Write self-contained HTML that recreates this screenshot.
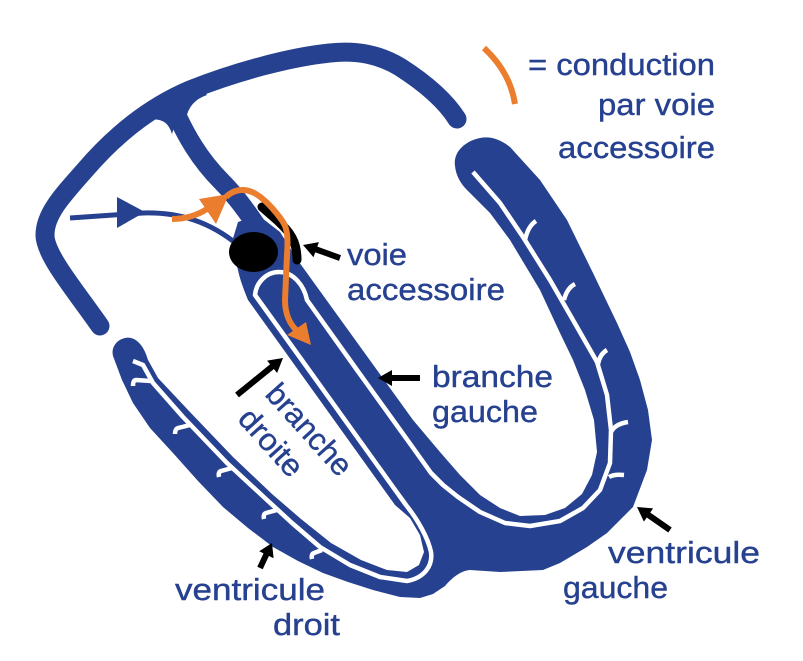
<!DOCTYPE html>
<html><head><meta charset="utf-8"><style>html,body{margin:0;padding:0;background:#fff}svg{display:block}</style></head>
<body>
<svg width="803" height="661" viewBox="0 0 803 661" xmlns="http://www.w3.org/2000/svg">
<rect width="803" height="661" fill="#fff"/>
<!-- atrium outer wall -->
<path d="M457,119 C445,100 425,83 400,67 C380,55 358,50 330,53 C290,57 235,72 190,90 C150,107 115,135 85,170 C60,198 45,215 45,235 C45,255 75,290 100,326" fill="none" stroke="#26418F" stroke-width="19" stroke-linecap="round"/>
<!-- atrial septum -->
<path d="M172,104 C185,135 200,160 222,182 C238,198 252,218 266,240" fill="none" stroke="#26418F" stroke-width="19"/>
<path d="M150,120 Q167,117 172,134 L180,108 L170,104 Z" fill="#26418F"/>
<path d="M186,119 Q189,101 207,95 L200,87 L178,93 Z" fill="#26418F"/>
<!-- ventricles -->
<path d="M113,356 L122,380 L133,403 L150,428 L173,453 L198,481 L223,507 L248,528 L273,547 L298,561 L323,573 L348,582 L373,590 L400,597 L420,598 L433,594 L445,586 C452,578 460,571 470,570 L500,572 L543,570 L560,563 L587,547 L607,533 L633,507 L647,470 L652,440 L648,410 L640,380 L630,352 L617,323 L593,273 L567,220 L540,180 L510,147 C500,139 490,136 480,138 C465,141 453,152 455,166 C456,176 461,184 467,190 L490,213 L510,240 L540,290 L560,333 L573,360 L585,390 L594,420 L597,452 L592,475 L582,494 L565,508 L545,515 L520,516 L500,508 L480,495 L460,475 L440,452 L413,420 L299,262 L280,232 L258,215 L238,222 L231,245 L238,270 C240,280 244,290 248,300 L395,505 L410,518 L420,535 L424,552 L419,565 L407,572 L387,570 L361,560 L331,543 L301,519 L272,494 L233,457 L189,411 L158,378 L148,360 C143,342 133,336 125,338 C116,340 111,348 113,356 Z" fill="#26418F"/>
<!-- conduction white lines -->
<g fill="none" stroke="#fff" stroke-width="4.5" stroke-linejoin="round">
<path d="M473,172 L500,203 L523,237 L550,280 L577,327 L597,362 L607,395 L611,430 L610,463 L600,490 L583,508 L560,521 L530,526 L505,523 L480,512 L458,497 L443,485 L431,473 L411,445 L393,420 L357,370 L307,300 C304,285 293,272 279,272 C266,272 256,283 255,295 L309,370 L393,487 L406,505 C418,520 428,538 431,552 C433,566 424,578 407,581 L380,577 L350,565 L320,547 L292,523 L267,500 L227,463 L183,417 L153,383 L143,365 L133,361"/>
<path d="M525,240 Q528,226 536,221"/>
<path d="M564,300 Q567,288 575,284"/>
<path d="M598,364 Q600,354 607,350"/>
<path d="M611,432 Q615,424 628,422"/>
<path d="M609,477 Q614,474 624,475"/>
<path d="M151,381 L136,380 Q133,380 133,386"/>
<path d="M190,425 L178,428 Q175,429 175,434"/>
<path d="M232,468 L221,471 Q218,472 219,477"/>
<path d="M277,510 L266,513 Q263,514 264,519"/>
<path d="M322,550 L314,553 Q311,554 312,559"/>
</g>
<!-- sinus conduction -->
<path d="M70,218 L143,213 C180,212 210,222 238,245" fill="none" stroke="#26418F" stroke-width="5"/>
<polygon points="117,197 117,228 145,212" fill="#26418F"/>
<!-- AV node -->
<ellipse cx="253.5" cy="252" rx="24.5" ry="20" fill="#000"/>
<!-- accessory pathway -->
<path d="M262,207 L278,221 C290,232 297,241 297,260" fill="none" stroke="#000" stroke-width="9" stroke-linecap="round"/>
<!-- orange conduction -->
<g fill="none" stroke="#EB7D2F" stroke-width="6">
<path d="M172,219 C185,219 196,216 207,209"/>
<path d="M226,197 C233,190 243,188 252,192 C262,196 275,210 283,222 C288,230 288,240 287,255 L285,300 C285,315 290,324 297,331"/>
<path d="M484,48 Q510,72 515,104"/>
</g>
<polygon points="199,199 216,224 229,194" fill="#EB7D2F"/>
<polygon points="287,335 306,322 311,345" fill="#EB7D2F"/>
<!-- black arrows -->
<g stroke="#000" stroke-width="6">
<line x1="340" y1="258" x2="315" y2="249"/>
<line x1="420" y1="378" x2="390" y2="378"/>
<line x1="237" y1="395" x2="274" y2="365"/>
<line x1="260" y1="568" x2="267" y2="553"/>
<line x1="670" y1="530" x2="647" y2="514"/>
</g>
<g fill="#000">
<polygon points="303,245 318.9,242.1 313.5,257.2"/>
<polygon points="378,378 392,370 392,386"/>
<polygon points="283,358 277.1,373 267.1,360.6"/>
<polygon points="272,543 273.6,558.2 259.2,551.2"/>
<polygon points="637,507 653.1,508.4 643.9,521.6"/>
</g>
<!-- labels -->
<g font-family="'Liberation Sans', sans-serif" font-size="31" fill="#26418F" stroke="#26418F" stroke-width="0.4">
<text x="528" y="75" textLength="187" lengthAdjust="spacingAndGlyphs">= conduction</text>
<text x="598" y="115" textLength="117" lengthAdjust="spacingAndGlyphs">par voie</text>
<text x="558" y="158" textLength="157" lengthAdjust="spacingAndGlyphs">accessoire</text>
<text x="347" y="265" textLength="60" lengthAdjust="spacingAndGlyphs">voie</text>
<text x="347" y="300" textLength="158" lengthAdjust="spacingAndGlyphs">accessoire</text>
<text x="432" y="387" textLength="121" lengthAdjust="spacingAndGlyphs">branche</text>
<text x="432" y="422" textLength="106" lengthAdjust="spacingAndGlyphs">gauche</text>
<text x="608" y="563" textLength="152" lengthAdjust="spacingAndGlyphs">ventricule</text>
<text x="563" y="598" textLength="105" lengthAdjust="spacingAndGlyphs">gauche</text>
<text x="175" y="600" textLength="150" lengthAdjust="spacingAndGlyphs">ventricule</text>
<text x="273" y="635" textLength="67" lengthAdjust="spacingAndGlyphs">droit</text>
<g transform="translate(264,395) rotate(48)">
<text x="0" y="0" textLength="112" lengthAdjust="spacingAndGlyphs">branche</text>
<text x="0" y="37" textLength="80" lengthAdjust="spacingAndGlyphs">droite</text>
</g>
</g>
</svg>
</body></html>
